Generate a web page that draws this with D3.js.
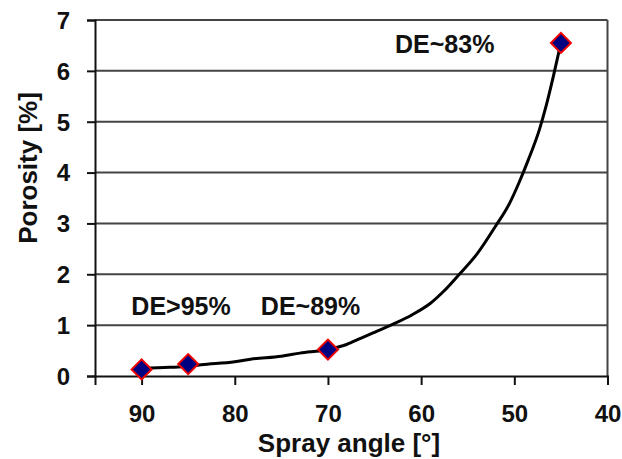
<!DOCTYPE html>
<html><head><meta charset="utf-8">
<script src="https://cdn.jsdelivr.net/npm/d3@7"></script>
<style>body{margin:0;background:#fff}svg{display:block}text{font-family:"Liberation Sans",Arial,sans-serif;font-weight:bold;fill:#111}</style>
</head><body><svg id="c" width="622" height="459"></svg>
<script>
// measured points
const angles = [90, 85, 70, 45];
const porosity = [0.13, 0.235, 0.52, 6.55];
// fitted trend curve
const curveAngles = [90, 87, 85, 83.6, 80, 78.3, 75, 73, 70, 68, 66.5, 65, 63, 61, 59, 57.5, 56, 54, 52, 50.5, 49.5, 48.5, 47.3, 46.6, 45.8, 45];
const curvePorosity = [0.15, 0.17, 0.19, 0.22, 0.28, 0.33, 0.39, 0.45, 0.52, 0.62, 0.74, 0.86, 1.02, 1.2, 1.43, 1.68, 1.98, 2.4, 2.95, 3.4, 3.8, 4.25, 4.85, 5.3, 5.9, 6.55];
const xTicks = [90, 80, 70, 60, 50, 40];
const yTicks = [0, 1, 2, 3, 4, 5, 6, 7];
const annotations = [
  {text: "DE>95%", angle: 91.1, value: 1.2},
  {text: "DE~89%", angle: 77.2, value: 1.2},
  {text: "DE~83%", angle: 62.8, value: 6.35}
];

const svg = d3.select("#c");
const x = d3.scaleLinear().domain([95, 40]).range([95, 607.5]);
const y = d3.scaleLinear().domain([0, 7]).range([376, 20]);

// gridlines
svg.append("g").selectAll("line").data(yTicks.filter(d => d > 0)).join("line")
  .attr("x1", x(95)).attr("x2", x(40)).attr("y1", d => y(d)).attr("y2", d => y(d))
  .attr("stroke", "#444").attr("stroke-width", 2);
// right border
svg.append("line").attr("x1", x(40)).attr("x2", x(40)).attr("y1", y(7)).attr("y2", y(0))
  .attr("stroke", "#444").attr("stroke-width", 2);

// x axis
const xAxis = svg.append("g").attr("transform", `translate(0,${y(0)})`)
  .call(d3.axisBottom(x).tickValues(xTicks).tickSize(9).tickPadding(20).tickFormat(d3.format("d")));
// y axis
const yAxis = svg.append("g").attr("transform", `translate(${x(95)},0)`)
  .call(d3.axisLeft(y).tickValues(yTicks).tickSize(8).tickPadding(17).tickFormat(d3.format("d")));
[xAxis, yAxis].forEach(a => {
  a.select(".domain").attr("stroke", "#111").attr("stroke-width", 2);
  a.selectAll(".tick line").attr("stroke", "#111").attr("stroke-width", 2);
  a.selectAll(".tick text").attr("font-size", 24).attr("fill", "#111")
    .style("font-family", '"Liberation Sans",Arial,sans-serif').style("font-weight", "bold");
});
yAxis.selectAll(".tick text").attr("dy", "0.35em");

// axis titles
svg.append("text").attr("x", 349).attr("y", 452).attr("text-anchor", "middle")
  .attr("font-size", 26).text("Spray angle [°]");
svg.append("text").attr("transform", "translate(37,168) rotate(-90)").attr("text-anchor", "middle")
  .attr("font-size", 26).text("Porosity [%]");

// curve
const line = d3.line().x(d => x(d[0])).y(d => y(d[1])).curve(d3.curveMonotoneX);
svg.append("path").datum(curveAngles.map((a, i) => [a, curvePorosity[i]]))
  .attr("d", line).attr("fill", "none").attr("stroke", "#000").attr("stroke-width", 3);

// markers
svg.append("g").selectAll("path").data(angles.map((a, i) => [a, porosity[i]])).join("path")
  .attr("d", d3.symbol(d3.symbolSquare, 200)())
  .attr("transform", d => `translate(${x(d[0])},${y(d[1])}) rotate(45)`)
  .attr("fill", "#000080").attr("stroke", "#e00").attr("stroke-width", 2);

// annotations
svg.append("g").selectAll("text").data(annotations).join("text")
  .attr("x", d => x(d.angle)).attr("y", d => y(d.value))
  .attr("font-size", 25).text(d => d.text);
</script></body></html>
